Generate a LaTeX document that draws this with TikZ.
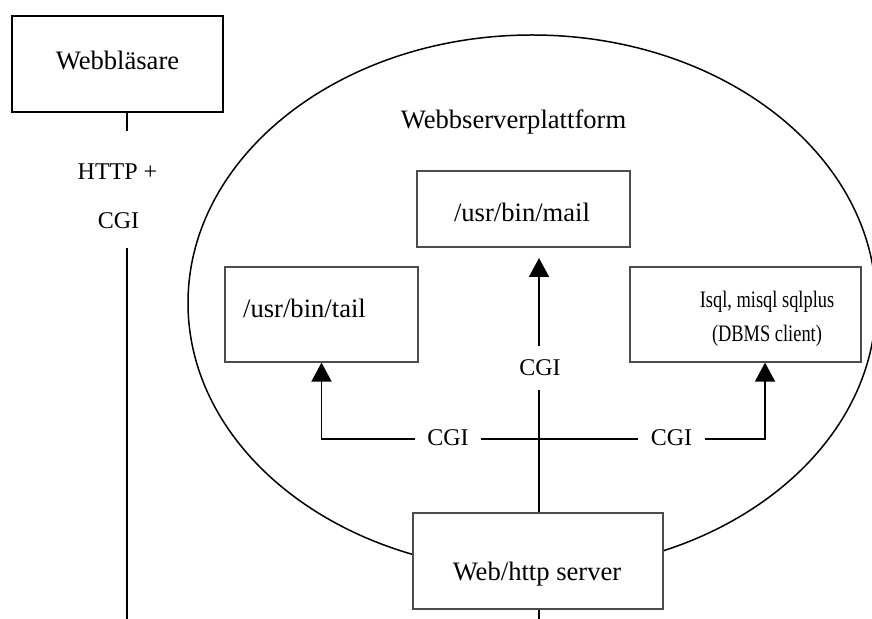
\documentclass[tikz,border=0pt]{standalone}
\usepackage{fontspec}
\setmainfont{Liberation Serif}
\newfontfamily\narrowserif[FakeStretch=0.78]{Liberation Serif}
\usetikzlibrary{arrows.meta,shapes.geometric}
\begin{document}
\begin{tikzpicture}[x=0.5pt,y=-0.5pt,
  boxstyle/.style={draw=black!70,line width=0.6pt,fill=white,rectangle,inner sep=0pt},
  txt/.style={inner sep=0pt,font=\fontsize{13.3}{16}\selectfont},
  conn/.style={line width=0.85pt},
  arr/.style={conn,-{Triangle[length=9.5pt,width=10pt]}},
  lab/.style={inner xsep=6pt,inner ysep=7pt,font=\fontsize{12}{14}\selectfont},
  thinline/.style={line width=0.6pt}]
\useasboundingbox (0,0) rectangle (872,619);
% platform ellipse
\node[ellipse,draw,line width=0.75pt,minimum width=344pt,minimum height=268pt,inner sep=0pt] (platform) at (532,303) {};
\node[txt] (platformtxt) at (513.5,122) {Webbserverplattform};
% browser
\node[boxstyle,draw=black,line width=1.1pt,minimum width=105.5pt,minimum height=48pt] (browser) at (117.5,64) {};
\node[txt] (browsertxt) at (117.5,60) {Webbläsare};
\node[lab] (httplab) at (117.5,172) {HTTP +};
\node[lab] (cgiA) at (118.5,220.5) {CGI};
\coordinate (lt) at (127,131);
\coordinate (lb) at (127,248);
\coordinate (lend) at (127,619);
\draw[thinline] (browser.south -| lt) -- (lt);
\draw[thinline] (lb) -- (lend);
% boxes
\node[boxstyle,minimum width=106.5pt,minimum height=38pt] (mail) at (523.5,209) {};
\node[txt] (mailtxt) at (522,212.5) {/usr/bin/mail};
\node[boxstyle,minimum width=96.5pt,minimum height=47.5pt] (tail) at (321.5,314.5) {};
\node[txt] (tailtxt) at (304.5,308.5) {/usr/bin/tail};
\node[boxstyle,minimum width=115.5pt,minimum height=47.5pt] (db) at (745.5,314.5) {};
\node[txt,font=\narrowserif\fontsize{11.8}{17}\selectfont,align=center] (dbtxt) at (767,319) {Isql, misql sqlplus\\(DBMS client)};
\node[boxstyle,minimum width=125pt,minimum height=48pt] (server) at (538,561) {};
\node[txt] (servertxt) at (537,574) {Web/http server};
\coordinate (send) at (539,619);
\draw[thinline] (server.south -| send) -- (send);
% CGI connectors
\node[lab] (cgiV) at (540,368) {CGI};
\node[lab] (cgiL) at (448,438) {CGI};
\node[lab] (cgiR) at (671.5,438) {CGI};
\coordinate (mailtip) at (539,258);
\coordinate (cross) at (539,439);
\coordinate (dbturn) at (765,439);
\draw[conn] (server.north -| cross) -- (cgiV.south -| cross);
\draw[arr] (cgiV.north -| cross) -- (mailtip);
\draw[conn] (cgiL.east |- cross) -- (cgiR.west |- cross);
\draw[arr] (cgiL.west |- cross) -| (tail.south);
\draw[arr] (cgiR.east |- cross) -- (dbturn) -- (db.south -| dbturn);
\end{tikzpicture}
\end{document}
